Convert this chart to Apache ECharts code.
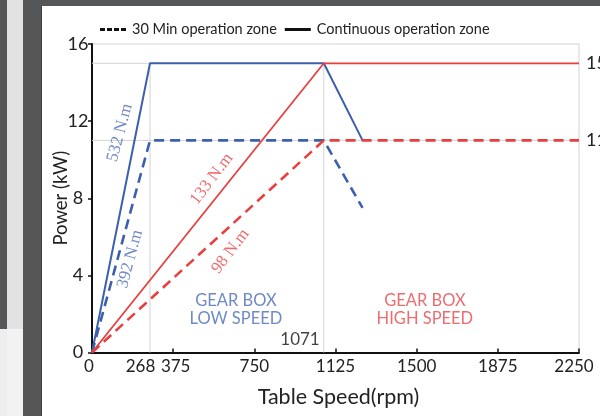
<!DOCTYPE html>
<html>
<head>
<meta charset="utf-8">
<script src="https://cdn.jsdelivr.net/npm/echarts@6/dist/echarts.min.js"></script>
<style>
  html, body { margin: 0; padding: 0; background: #555658; overflow: hidden; }
  #chart { width: 600px; height: 416px; }
</style>
</head>
<body>
<div id="chart"></div>
<script>
// Table speed (rpm) vs. power (kW) for the two gearbox ranges
const lowSpeedContinuous = [[0, 0], [268, 15], [1071, 15], [1250, 11]];
const lowSpeed30Min      = [[0, 0], [268, 11], [1071, 11], [1250, 7.5]];
const highSpeedContinuous = [[0, 0], [1071, 15], [2250, 15]];
const highSpeed30Min      = [[0, 0], [1071, 11], [2250, 11]];

// axis marks
const speedMax = 2250;
const xLabelValues = [0, 268, 375, 750, 1125, 1500, 1875, 2250];
const xTickValues = [375, 750, 1125, 1500, 1875, 2250];
const rightLabelValues = [11, 15];
const cornerSpeeds = [268, 1071];
const powerLimits = [11, 15];

// torque notes and region captions: [speed, power, text, range]
const torqueNotes = [
  [129, 11.4, '532 N.m', 'low'],
  [176, 4.85, '392 N.m', 'low'],
  [553, 9.0, '133 N.m', 'high'],
  [640, 5.25, '98 N.m', 'high']
];
const regionNotes = [
  [665, 2.2, 'GEAR BOX\nLOW SPEED', 'low'],
  [1538, 2.2, 'GEAR BOX\nHIGH SPEED', 'high']
];
const cornerNote = [961, 0.65, '1071'];

const LEGEND_30MIN = '30 Min operation zone';
const LEGEND_CONT = 'Continuous operation zone';

const BLUE = '#3c5fae';
const RED = '#e8403f';
const SANS = 'Lato, "Noto Sans", sans-serif';
const SERIF = '"Liberation Serif", "DejaVu Serif", serif';

const chart = echarts.init(document.getElementById('chart'), null, { renderer: 'canvas' });

function noteColor(k) { return k === 'low' ? '#4a6cb6' : '#e8474a'; }

const annotationData = []
  .concat(torqueNotes.map(n => ({
    value: [n[0], n[1]],
    label: {
      show: true, formatter: n[2], rotate: n[3] === 'low' ? 75 : 53,
      color: noteColor(n[3]), fontFamily: SERIF, fontSize: 17, position: 'inside'
    }
  })))
  .concat(regionNotes.map(n => ({
    value: [n[0], n[1]],
    label: {
      show: true, formatter: n[2], color: noteColor(n[3]), fontFamily: SANS,
      fontSize: 16.5, lineHeight: 18, align: 'center', position: 'inside'
    }
  })))
  .concat([{
    value: [cornerNote[0], cornerNote[1]],
    label: {
      show: true, formatter: cornerNote[2], color: '#111', fontFamily: SANS,
      fontSize: 17, position: 'inside'
    }
  }]);

// light reference lines at the power limits and the corner speeds
const guideSeries = powerLimits.map(p => [[0, p], [speedMax, p]])
  .concat(cornerSpeeds.map(s => [[s, 0], [s, 15]]))
  .map(pts => ({
    type: 'line', data: pts, symbol: 'none', silent: true, z: 1,
    lineStyle: { color: '#d3d3d3', width: 1 }
  }));

// per-label nudges so neighbouring speed labels do not collide
const xLabelPad = { 0: [0, 6, 0, 0], 268: [0, 19, 0, 0], 375: [0, 0, 0, 5], 2250: [0, 10, 0, 0] };
const xRich = {};
xLabelValues.forEach(v => {
  xRich['v' + v] = { padding: xLabelPad[v] || [0, 0, 0, 0], fontFamily: SANS, fontSize: 17, color: '#222' };
});

const option = {
  backgroundColor: '#555658',
  animation: false,
  graphic: [
    { type: 'rect', shape: { x: 7, y: 0, width: 16, height: 416 }, style: { fill: '#e2e2e2' }, silent: true, z: -10 },
    { type: 'rect', shape: { x: 0, y: 329, width: 7, height: 87 }, style: { fill: '#eeeeee' }, silent: true, z: -10 },
    { type: 'rect', shape: { x: 7, y: 329, width: 16, height: 87 }, style: { fill: '#f2f2f2' }, silent: true, z: -10 },
    { type: 'rect', shape: { x: 41, y: 6, width: 1, height: 410 }, style: { fill: '#3e3e40' }, silent: true, z: -10 },
    { type: 'rect', shape: { x: 42, y: 6, width: 558, height: 410 }, style: { fill: '#ffffff' }, silent: true, z: -10 }
  ],
  grid: {
    left: 92, right: 21, top: 44, bottom: 63.5,
    outerBoundsMode: 'none', containLabel: false,
    show: true, borderColor: '#d2d2d2', borderWidth: 1, backgroundColor: 'transparent'
  },
  legend: {
    left: 95, top: 17,
    itemWidth: 28, itemHeight: 3, itemGap: 8,
    data: [
      { name: LEGEND_30MIN, icon: 'path://M0,0H5V3H0Z M7,0H12V3H7Z M14,0H19V3H14Z M21,0H26V3H21Z', itemStyle: { color: '#111' } },
      { name: LEGEND_CONT, icon: 'path://M0,0H26V3H0Z', itemStyle: { color: '#111' } }
    ],
    textStyle: { fontFamily: SANS, fontSize: 14.5, color: '#222' },
    selectedMode: false
  },
  xAxis: {
    type: 'value', min: 0, max: speedMax,
    name: 'Table Speed(rpm)', nameLocation: 'middle', nameGap: 34, nameMoveOverlap: false,
    nameTextStyle: { fontFamily: SANS, fontSize: 21.5, color: '#222', padding: [0, 0, 0, 6] },
    axisLine: { show: true, onZero: false, lineStyle: { color: '#111', width: 2 } },
    axisTick: { show: true, inside: true, length: 4, customValues: xTickValues, lineStyle: { color: '#111', width: 1.5 } },
    axisLabel: {
      customValues: xLabelValues, margin: 6, color: '#222', fontFamily: SANS, fontSize: 17,
      hideOverlap: false,
      formatter: v => '{v' + v + '|' + v + '}',
      rich: xRich
    },
    splitLine: { show: false }
  },
  yAxis: [{
    type: 'value', min: 0, max: 16, interval: 4,
    name: 'Power (kW)', nameLocation: 'middle', nameGap: 21, nameRotate: 90, nameMoveOverlap: false,
    nameTextStyle: { fontFamily: SANS, fontSize: 18.5, color: '#222' },
    axisLine: { show: true, onZero: false, lineStyle: { color: '#111', width: 2 } },
    axisTick: { show: true, inside: false, length: 4, lineStyle: { color: '#111', width: 1.5 } },
    axisLabel: { margin: 14, align: 'center', color: '#222', fontFamily: SANS, fontSize: 18 },
    splitLine: { show: false }
  }, {
    type: 'value', min: 0, max: 16, position: 'right',
    axisLine: { show: false }, axisTick: { show: false }, splitLine: { show: false },
    axisLabel: { customValues: rightLabelValues, margin: 7, color: '#222', fontFamily: SANS, fontSize: 18 }
  }],
  series: guideSeries.concat([
    {
      name: LEGEND_CONT, type: 'line', data: lowSpeedContinuous, symbol: 'none', z: 3,
      lineStyle: { color: BLUE, width: 2 }, itemStyle: { color: BLUE }
    },
    {
      name: LEGEND_30MIN, type: 'line', data: lowSpeed30Min, symbol: 'none', z: 3,
      lineStyle: { color: BLUE, width: 2.6, type: [10, 6] }, itemStyle: { color: BLUE }
    },
    {
      name: LEGEND_CONT, type: 'line', data: highSpeedContinuous, symbol: 'none', z: 4,
      lineStyle: { color: RED, width: 1.8 }, itemStyle: { color: RED }
    },
    {
      name: LEGEND_30MIN, type: 'line', data: highSpeed30Min, symbol: 'none', z: 4,
      lineStyle: { color: RED, width: 2.6, type: [10, 6] }, itemStyle: { color: RED }
    },
    {
      name: 'notes', type: 'scatter', data: annotationData, symbolSize: 0, silent: true, z: 6,
      itemStyle: { color: 'transparent' }
    }
  ])
};

chart.setOption(option);
</script>
</body>
</html>
